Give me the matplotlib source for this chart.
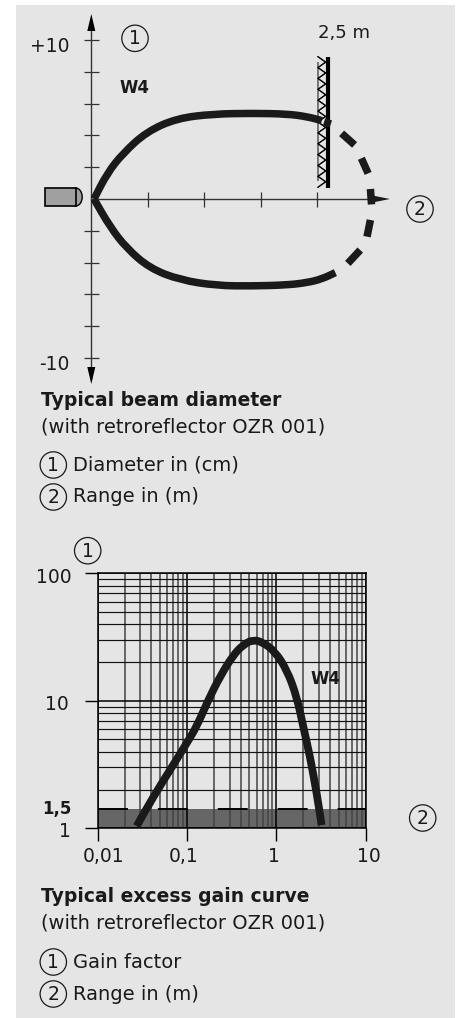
import numpy as np
import matplotlib
matplotlib.use("Agg")
import matplotlib.pyplot as plt
from matplotlib.patches import Rectangle, Circle, Polygon, Ellipse, PathPatch
from matplotlib.path import Path
from matplotlib.ticker import LogLocator, NullFormatter
from matplotlib.transforms import ScaledTranslation, IdentityTransform

W, H = 465, 1018
BG = '#e5e5e5'
INK = '#1a1a1a'
FONT = 'DejaVu Sans'

# beam diameter chart: range in m, diameter in cm
upper_x = [0.024, 0.14, 0.28, 0.49, 0.755, 1.08, 1.43, 1.73, 1.91, 2.04]
upper_y = [0, 1.61, 2.87, 4.23, 5.07, 5.35, 5.39, 5.35, 5.18, 4.93]
lower_x = [0.024, 0.165, 0.313, 0.519, 0.785, 1.11, 1.43, 1.73, 1.91, 2.04, 2.16]
lower_y = [0, -1.74, -3.10, -4.36, -5.09, -5.45, -5.47, -5.41, -5.26, -5.03, -4.63]
dash_x = [(2.06, 2.12), (2.215, 2.33), (2.39, 2.45), (2.47, 2.48), (2.47, 2.44), (2.38, 2.27)]
dash_y = [(4.85, 4.72), (4.13, 3.40), (2.56, 1.61), (0.63, -0.34), (-1.32, -2.37), (-3.21, -4.05)]
beam_xticks = [0.5, 1.0, 1.5, 2.0]
beam_yticks = [-10, -8, -6, -4, -2, 2, 4, 6, 8, 10]
beam_ylabels = ['-10', '', '', '', '', '', '', '', '', '+10']
wall_x = 2.094
wall_top = 8.95
wall_bottom = 0.71
mesh_x = 2.006
mesh_top = 8.53
mesh_bottom = 1.19

# excess gain chart
gain_x = [0.0273, 0.042, 0.0646, 0.099, 0.128, 0.173, 0.234, 0.330, 0.428, 0.553,
          0.714, 0.966, 1.31, 1.69, 2.0, 2.38, 2.83, 3.21]
gain_y = [1.04, 1.77, 2.87, 4.64, 6.27, 10.15, 15.5, 22.9, 27.6, 30.2,
          28.6, 24.3, 17.5, 10.8, 6.27, 3.65, 1.88, 1.06]
gain_xticks = [0.01, 0.1, 1, 10]
gain_xlabels = ['0,01', '0,1', '1', '10']
gain_yticks = [1, 10, 100]
gain_ylabels = ['1', '10', '100']
band_top = 1.41


def axes_px(fig, left, top, right, bottom):
    ax = fig.add_axes([left / W, 1 - bottom / H, (right - left) / W, (bottom - top) / H])
    ax.patch.set_alpha(0)
    return ax


def shift(label, fig, dx, dy):
    label.set_transform(label.get_transform() + ScaledTranslation(dx / 100, -dy / 100, fig.dpi_scale_trans))


def smooth(ax, xs, ys, lw):
    # curve through the read points, drawn as quadratic segments in screen space
    pts = ax.transData.transform(np.column_stack([xs, ys]))
    verts = [pts[0], (pts[0] + pts[1]) / 2]
    codes = [Path.MOVETO, Path.LINETO]
    for i in range(1, len(pts) - 1):
        verts += [pts[i], (pts[i] + pts[i + 1]) / 2]
        codes += [Path.CURVE3, Path.CURVE3]
    verts.append(pts[-1])
    codes.append(Path.LINETO)
    ax.add_patch(PathPatch(Path(verts, codes), transform=IdentityTransform(), facecolor='none',
                           edgecolor=INK, lw=lw, capstyle='butt', joinstyle='round', zorder=4))


fig = plt.figure(figsize=(W / 100, H / 100), dpi=100, facecolor='white')
fig.add_artist(Rectangle((16 / W, 0), 439 / W, 1013 / H, transform=fig.transFigure,
                         facecolor=BG, edgecolor='none', zorder=-1))

# --- beam diameter ---
ax = axes_px(fig, 40, 10, 395, 390)
ax.set_xlim((40 - 91.3) / 113, (395 - 91.3) / 113)
ax.set_ylim((199 - 390) / 15.9, (199 - 10) / 15.9)
for s in ['top', 'right']:
    ax.spines[s].set_visible(False)
ax.spines['left'].set_position('zero')
ax.spines['bottom'].set_position('zero')
ax.spines['left'].set_bounds(-11.3, 11.0)
ax.spines['bottom'].set_bounds(0, 2.55)
ax.spines['left'].set_linewidth(1)
ax.spines['bottom'].set_linewidth(1)
ax.spines['left'].set_color('#333333')
ax.spines['bottom'].set_color('#333333')
ax.set_xticks(beam_xticks)
ax.set_xticklabels([])
ax.set_yticks(beam_yticks)
ax.set_yticklabels(beam_ylabels, fontsize=13.5, family=FONT, color=INK)
ax.tick_params(axis='both', direction='inout', length=10.8, width=0.9, color='#333333')
ax.tick_params(axis='y', pad=10)
for lab in ax.get_yticklabels():
    shift(lab, fig, 0, 4)

smooth(ax, upper_x, upper_y, 5.4)
smooth(ax, lower_x, lower_y, 5.4)
for xs, ys in zip(dash_x, dash_y):
    ax.plot(xs, ys, color=INK, lw=5.4, solid_capstyle='butt', zorder=4)

# reflector: mesh and wall
ax.plot([mesh_x, mesh_x], [mesh_bottom, mesh_top], color='#777777', lw=1.4, zorder=2)
ax.plot([wall_x, wall_x], [wall_bottom, wall_top], color='black', lw=3, solid_capstyle='butt', zorder=3)
steps = np.linspace(mesh_bottom - 0.45, wall_top, 25)
zig = np.where(np.arange(25) % 2 == 0, mesh_x, wall_x - 0.02)
ax.plot(zig, steps, color='black', lw=0.8, zorder=2)
ax.plot(zig[::-1], steps, color='black', lw=0.8, zorder=2)

# --- excess gain ---
ax2 = axes_px(fig, 97.7, 573.3, 365.7, 828.3)
ax2.set_xscale('log')
ax2.set_yscale('log')
ax2.set_xlim(0.01, 10)
ax2.set_ylim(1, 100)
ax2.axhspan(1, band_top, color='#666666', lw=0, zorder=0.5)
ax2.plot([0.01, 10], [band_top, band_top], color='black', lw=1.4, dashes=(15.4, 15.4), zorder=3)
ax2.set_xticks(gain_xticks)
ax2.set_xticklabels(gain_xlabels, fontsize=13.5, family=FONT, color=INK)
ax2.set_yticks(gain_yticks)
ax2.set_yticklabels(gain_ylabels, fontsize=13.5, family=FONT, color=INK)
ax2.xaxis.set_minor_locator(LogLocator(base=10, subs=range(2, 10), numticks=12))
ax2.yaxis.set_minor_locator(LogLocator(base=10, subs=range(2, 10), numticks=12))
ax2.xaxis.set_minor_formatter(NullFormatter())
ax2.yaxis.set_minor_formatter(NullFormatter())
ax2.tick_params(which='major', direction='out', length=9.4, width=1, color='black')
ax2.tick_params(which='minor', length=0)
ax2.tick_params(axis='x', pad=4)
ax2.tick_params(axis='y', pad=8)
ax2.set_axisbelow(False)
ax2.grid(True, which='major', color='black', lw=1.1)
ax2.grid(True, which='minor', axis='x', color='#444444', lw=1.1)
ax2.grid(True, which='minor', axis='y', color='#111111', lw=0.85)
for s in ax2.spines.values():
    s.set_linewidth(1.1)
smooth(ax2, gain_x, gain_y, 5.6)
for lab, dx in zip(ax2.get_xticklabels(), [6, -3, -2, 3]):
    shift(lab, fig, dx, 0)
for lab, (dx, dy) in zip(ax2.get_yticklabels(), [(-3, 1), (-5, 2), (-1.5, 2)]):
    shift(lab, fig, dx, dy)

# --- overlay in pixel coordinates: arrows, emitter, captions ---
ov = fig.add_axes([0, 0, 1, 1], zorder=5)
ov.set_xlim(0, W)
ov.set_ylim(H, 0)
ov.axis('off')

ov.add_patch(Polygon([(91.3, 14), (87.3, 31), (95.3, 31)], closed=True, color='black', lw=0))
ov.add_patch(Polygon([(91.3, 384), (87.3, 367), (95.3, 367)], closed=True, color='black', lw=0))
ov.add_patch(Polygon([(390, 199), (370, 195), (370, 203)], closed=True, color=INK, lw=0))

ov.add_patch(Ellipse((75.7, 197), 13, 18, facecolor='#a0a0a0', edgecolor='black', lw=1))
ov.add_patch(Rectangle((45, 188), 30.7, 18, facecolor='#a0a0a0', edgecolor='black', lw=1.2))


def circled(x, y, s):
    ov.add_patch(Circle((x, y), 13.2, facecolor='none', edgecolor=INK, lw=0.9))
    ov.text(x, y + 0.5, s, ha='center', va='center', fontsize=13.5, family=FONT, color=INK)


def txt(x, y, s, ha='left', bold=False, size=14):
    ov.text(x, y, s, ha=ha, va='center', fontsize=size, family=FONT, color=INK,
            fontweight='bold' if bold else 'normal')


circled(135, 38.3, '1')
circled(420, 209, '2')
txt(344, 33, '2,5 m', ha='center', size=13)
txt(134, 88, 'W4', ha='center', bold=True, size=12)

txt(41, 400.7, 'Typical beam diameter', bold=True, size=13.5)
txt(41, 426.7, '(with retroreflector OZR 001)')
circled(53.3, 465, '1')
txt(72.5, 465, 'Diameter in (cm)')
circled(53.3, 497, '2')
txt(72.5, 497, 'Range in (m)')

circled(87.7, 550.7, '1')
circled(422.7, 818, '2')
txt(325, 679, 'W4', ha='center', bold=True, size=12)
txt(71.7, 809, '1,5', ha='right', bold=True, size=12)

txt(41, 896.7, 'Typical excess gain curve', bold=True, size=13.5)
txt(41, 922.7, '(with retroreflector OZR 001)')
circled(53.3, 962, '1')
txt(72.5, 962, 'Gain factor')
circled(53.3, 994, '2')
txt(72.5, 994, 'Range in (m)')

fig.savefig('out.png', dpi=100)
